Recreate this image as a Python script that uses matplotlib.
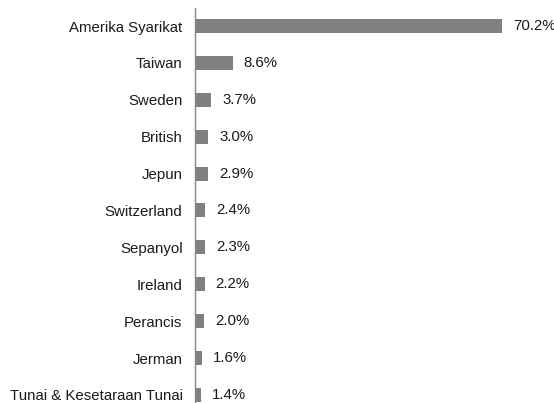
import matplotlib.pyplot as plt

plt.rcParams['font.family'] = ['Liberation Sans', 'DejaVu Sans']

negara = ['Amerika Syarikat', 'Taiwan', 'Sweden', 'British', 'Jepun', 'Switzerland',
          'Sepanyol', 'Ireland', 'Perancis', 'Jerman', 'Tunai & Kesetaraan Tunai']
peratus = [70.2, 8.6, 3.7, 3.0, 2.9, 2.4, 2.3, 2.2, 2.0, 1.6, 1.4]

fig = plt.figure(figsize=(5.54, 4.03), dpi=100)
ax = fig.add_axes([195 / 554, 0, 359 / 554, 395 / 403])

y = list(range(len(negara)))
bars = ax.barh(y, peratus, height=0.38, color='#808080')
for b, v in zip(bars, peratus):
    ax.annotate(f'{v:.1f}%', (b.get_width(), b.get_y() + b.get_height() / 2),
                xytext=(8, 0), textcoords='offset points', va='center', ha='left',
                fontsize=10.8, color='#1a1a1a')

ax.set_yticks(y)
ax.set_yticklabels(negara, fontsize=10.8, color='#1a1a1a')
ax.set_ylim(10.22, -0.49)
ax.set_xlim(0, 82.1)
ax.tick_params(axis='y', length=0, pad=9)
ax.set_xticks([])
for s in ['top', 'right', 'bottom']:
    ax.spines[s].set_visible(False)
ax.spines['left'].set_color('#888888')
ax.spines['left'].set_linewidth(1)

plt.savefig('out.png', dpi=100)
